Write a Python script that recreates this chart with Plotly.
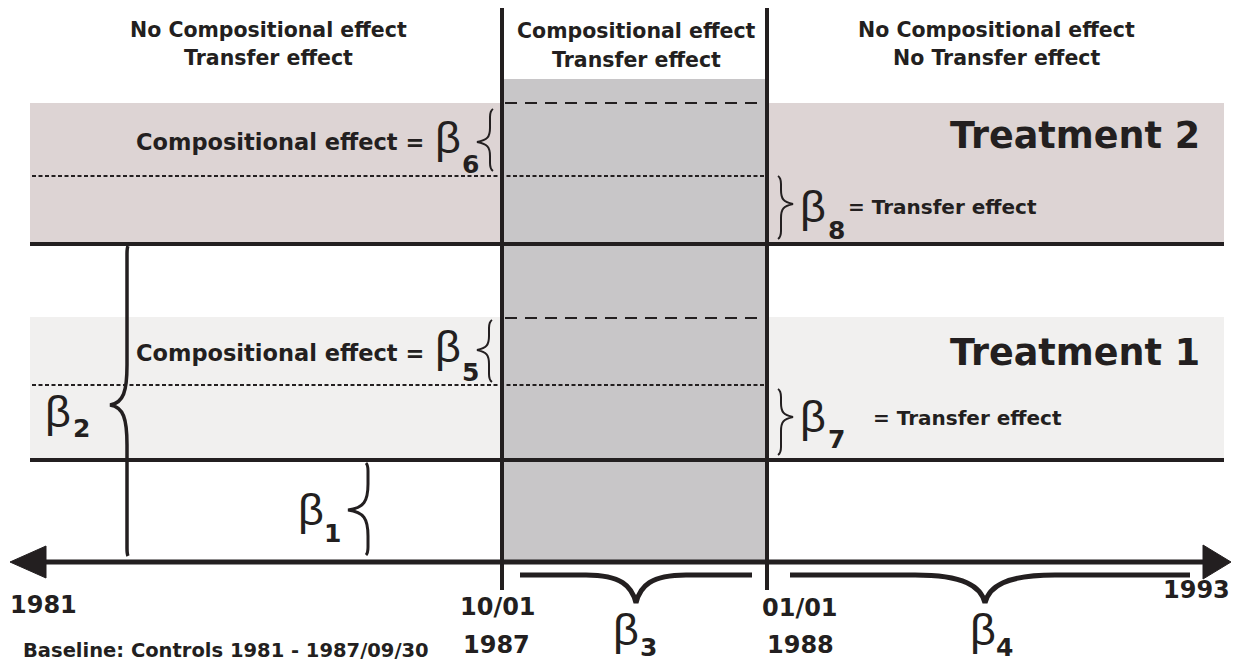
import plotly.graph_objects as go

# ---------------- content (text / categories) ----------------
period_headers = [
    ["No Compositional effect", "Transfer effect"],
    ["Compositional effect", "Transfer effect"],
    ["No Compositional effect", "No Transfer effect"],
]
treatment_labels = ["Treatment 2", "Treatment 1"]
beta_labels = ["1", "2", "3", "4", "5", "6", "7", "8"]
compositional_text = "Compositional effect ="
transfer_text = "= Transfer effect"
axis_tick_labels = ["1981", "10/01", "1987", "01/01", "1988", "1993"]
baseline_note = "Baseline: Controls 1981 - 1987/09/30"

# ---------------- schematic geometry (diagram units) ----------------
W, H = 1233, 665
INK = "#231f20"
C_T2 = "#ddd4d4"
C_T1 = "#f1f0ef"
C_MID = "#c8c6c8"

band_x = (30, 1224)
band_y = {"Treatment 2": (103, 244), "Treatment 1": (317, 460)}
mid_x = (502, 767)
mid_top = 79
axis_y = 562
dotted_y = [176, 385]
dashed_y = [103, 318]

header_pos = [(268, 30, 58), (636, 31, 60), (996, 30, 58)]
treat_pos = {"Treatment 2": (1201, 135), "Treatment 1": (1201, 352)}
tick_pos = {"1981": (43, 605), "10/01": (498, 607), "1987": (496, 645),
            "01/01": (800, 608), "1988": (800, 645), "1993": (1196, 590)}
# (beta glyph left x, beta centre y, subscript left x, subscript centre y)
beta_pos = {"1": (297, 509, 323, 533), "2": (44, 411, 72, 428),
            "3": (612, 629, 639, 647), "4": (969, 629, 995, 647),
            "5": (434, 346, 461, 372), "6": (434, 137, 461, 164),
            "7": (799, 416, 827, 439), "8": (799, 206, 827, 230)}

shapes = []

def rect(x0, y0, x1, y1, color):
    shapes.append(dict(type="rect", xref="x", yref="y", x0=x0, y0=y0, x1=x1, y1=y1,
                       fillcolor=color, line=dict(width=0), layer="below"))

def line(x0, y0, x1, y1, width=4, dash="solid"):
    shapes.append(dict(type="line", xref="x", yref="y", x0=x0, y0=y0, x1=x1, y1=y1,
                       line=dict(color=INK, width=width, dash=dash)))

def path(d, width=3, fill=None):
    s = dict(type="path", xref="x", yref="y", path=d, line=dict(color=INK, width=width))
    if fill:
        s["fillcolor"] = fill
        s["line"] = dict(color=INK, width=1)
    shapes.append(s)

def vbrace(x, y1, y2, ym, d, w, c, width=3):
    # spine at x, tip at x-d (d>0 tip left, d<0 tip right)
    p = (f"M {x+c},{y1} Q {x},{y1+2} {x},{y1+8} L {x},{ym-w} "
         f"C {x},{ym-w*0.35} {x-d*0.2},{ym-2} {x-d},{ym} "
         f"C {x-d*0.2},{ym+2} {x},{ym+w*0.35} {x},{ym+w} "
         f"L {x},{y2-8} Q {x},{y2-2} {x+c},{y2}")
    path(p, width)

def hbrace(x1, x2, xm, y, d, w, width=5):
    p = (f"M {x1},{y} L {xm-w},{y} C {xm-w*0.3},{y} {xm-4},{y+d*0.4} {xm},{y+d} "
         f"C {xm+4},{y+d*0.4} {xm+w*0.3},{y} {xm+w},{y} L {x2},{y}")
    path(p, width)

# bands
rect(band_x[0], band_y["Treatment 2"][0], band_x[1], band_y["Treatment 2"][1], C_T2)
rect(band_x[0], band_y["Treatment 1"][0], band_x[1], band_y["Treatment 1"][1], C_T1)
rect(mid_x[0], mid_top, mid_x[1], axis_y, C_MID)

# dotted & dashed reference lines
for yy in dotted_y:
    line(32, yy, mid_x[1] - 3, yy, width=2, dash="4px,2.5px")
for yy in dashed_y:
    line(mid_x[0] + 3, yy, mid_x[1] - 2, yy, width=2, dash="12px,8px")

# band bottom lines
for t in treatment_labels:
    line(band_x[0], band_y[t][1], band_x[1], band_y[t][1], width=4)

# vertical period lines
for xx in mid_x:
    line(xx, 8, xx, 590, width=4)

# time axis with arrowheads
line(40, axis_y, 1208, axis_y, width=5)
path(f"M 10,{axis_y} L 46,{axis_y-16} L 46,{axis_y+16} Z", fill=INK)
path(f"M 1231,{axis_y} L 1203,{axis_y-17} L 1203,{axis_y+17} Z", fill=INK)

# braces
vbrace(490, 109, 171, 142, 13, 14, 3, width=2)     # beta6
vbrace(489, 320, 382, 350, 12, 14, 3, width=2)     # beta5
vbrace(781, 176, 239, 204, -12, 14, -3, width=2)   # beta8
vbrace(781, 389, 455, 417, -12, 14, -3, width=2)   # beta7
vbrace(368, 463, 555, 510, 20, 26, -2, width=3)    # beta1
vbrace(127, 246, 556, 405, 17, 40, 1, width=3.5)   # beta2
hbrace(520, 752, 636, 575, 28, 50, width=5)        # beta3
hbrace(790, 1190, 985, 575, 28, 70, width=5)       # beta4

annotations = []

def txt(x, y, s, size, bold=True, xanchor="center", family="DejaVu Sans"):
    annotations.append(dict(x=x, y=y, xref="x", yref="y", text=s, showarrow=False,
                            xanchor=xanchor, yanchor="middle", borderpad=0,
                            font=dict(family=family, size=size, color=INK,
                                      weight="bold" if bold else "normal")))

for (hx, y1, y2), (l1, l2) in zip(header_pos, period_headers):
    txt(hx, y1, l1, 20.5)
    txt(hx, y2, l2, 20.5)

for t in treatment_labels:
    tx, ty = treat_pos[t]
    txt(tx, ty, t, 36.5, xanchor="right")

txt(425, 142, compositional_text, 22.5, xanchor="right")
txt(425, 353, compositional_text, 22.5, xanchor="right")
txt(847, 207, transfer_text, 20, xanchor="left")
txt(872, 418, transfer_text, 20, xanchor="left")

for k in beta_labels:
    bx, by, sx, sy = beta_pos[k]
    txt(bx, by, "β", 45, bold=False, xanchor="left", family="Liberation Sans")
    txt(sx, sy, k, 25, bold=True, xanchor="left")

for lab in axis_tick_labels:
    lx, ly = tick_pos[lab]
    txt(lx, ly, lab, 24)

txt(22, 650, baseline_note, 19.5, xanchor="left")

fig = go.Figure()
fig.add_trace(go.Scatter(x=[0, W], y=[0, H], mode="markers",
                         marker=dict(opacity=0), hoverinfo="skip", showlegend=False))
fig.update_layout(
    width=W, height=H, margin=dict(l=0, r=0, t=0, b=0),
    paper_bgcolor="white", plot_bgcolor="white",
    xaxis=dict(range=[0, W], visible=False, fixedrange=True),
    yaxis=dict(range=[H, 0], visible=False, fixedrange=True),
    shapes=shapes, annotations=annotations, showlegend=False,
)
fig.write_html("out.html", config={"displayModeBar": False},
               post_script="document.body.style.margin='0';document.body.style.overflow='hidden';")
